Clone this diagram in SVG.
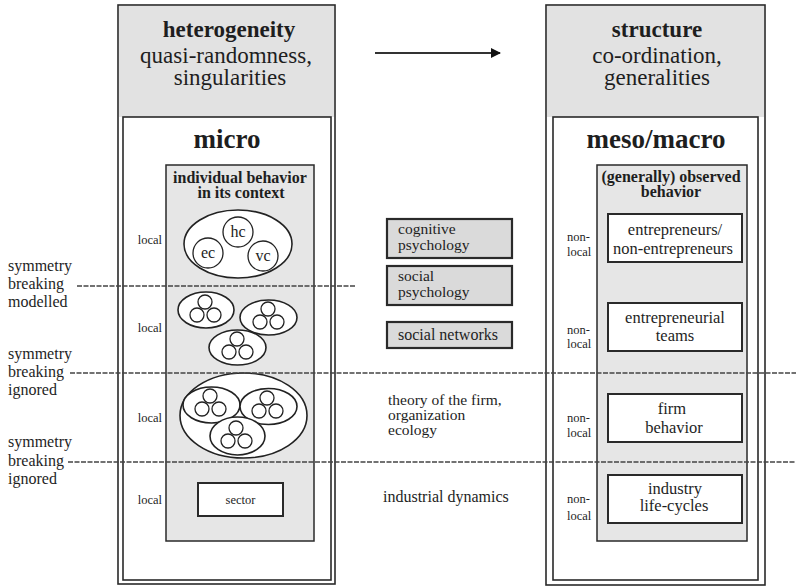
<svg xmlns="http://www.w3.org/2000/svg" width="796" height="587" viewBox="0 0 796 587" font-family="Liberation Serif">
<style>
text{fill:#1e1e1e}
.t{font-size:23px;text-anchor:middle}
.b{font-weight:bold}
.m{font-size:27px;text-anchor:middle;font-weight:bold}
.h{font-size:16px;text-anchor:middle;font-weight:bold}
.l{font-size:16px}
.n{font-size:15.5px}
.s{font-size:12.5px}
.bx{font-size:16.5px;text-anchor:middle}
.frame{fill:#fff;stroke:#2a2a2a;stroke-width:1.6}
.head{fill:#e2e2e2}
.gray{fill:#e6e6e6;stroke:#2a2a2a;stroke-width:1.5}
.mid{fill:#dadada;stroke:#2a2a2a;stroke-width:2.2}
.wb{fill:#fff;stroke:#2a2a2a;stroke-width:2}
.e{fill:#fff;stroke:#222;stroke-width:1.6}
.c{fill:#fff;stroke:#222;stroke-width:1.3}
.sep{stroke:#444;stroke-width:1.4;stroke-dasharray:5 1.5;fill:none}
</style>
<defs>
<marker id="ah" markerWidth="10" markerHeight="10" refX="9" refY="5" orient="auto" markerUnits="userSpaceOnUse">
<path d="M0,0 L10,5 L0,10 Z" fill="#111"/>
</marker>
<g id="tri">
<circle class="c" cx="0" cy="-8" r="7"/>
<circle class="c" cx="-8" cy="5" r="7"/>
<circle class="c" cx="9" cy="5" r="7"/>
</g>
</defs>

<g id="left-column">
<rect class="frame" x="118" y="5" width="217" height="579"/>
<rect class="head" x="119" y="6" width="215" height="111"/>
<text class="t b" x="229" y="37">heterogeneity</text>
<text class="t" x="226" y="63">quasi-randomness,</text>
<text class="t" x="230" y="85">singularities</text>
<rect class="frame" x="123" y="117" width="208" height="463"/>
<text class="m" x="227" y="148">micro</text>
</g>

<g id="individual-behavior">
<rect class="gray" x="166" y="165" width="148" height="376"/>
<text class="h" x="240" y="183">individual behavior</text>
<text class="h" x="241" y="198">in its context</text>
</g>

<g id="level1">
<text class="s" x="162" y="244" text-anchor="end">local</text>
<ellipse class="e" cx="238" cy="244" rx="54" ry="34"/>
<circle class="c" cx="238" cy="232" r="15"/>
<circle class="c" cx="208" cy="253" r="15"/>
<circle class="c" cx="263" cy="256" r="15"/>
<text x="238" y="237" font-size="16" text-anchor="middle">hc</text>
<text x="208" y="258" font-size="16" text-anchor="middle">ec</text>
<text x="263" y="261" font-size="16" text-anchor="middle">vc</text>
</g>

<g id="level2">
<text class="s" x="162" y="332" text-anchor="end">local</text>
<ellipse class="e" cx="206" cy="310" rx="28" ry="18"/>
<use href="#tri" x="205" y="310"/>
<ellipse class="e" cx="268.5" cy="317.5" rx="28.5" ry="17.5"/>
<use href="#tri" x="268" y="317"/>
<ellipse class="e" cx="237.5" cy="347.5" rx="28.5" ry="17.5"/>
<use href="#tri" x="237" y="347"/>
</g>

<g id="level3">
<text class="s" x="162" y="422" text-anchor="end">local</text>
<ellipse class="e" cx="243.5" cy="415.5" rx="63.5" ry="42.5"/>
<ellipse class="e" cx="211.5" cy="405" rx="28.5" ry="18"/>
<use href="#tri" x="210" y="404"/>
<ellipse class="e" cx="268.5" cy="406.5" rx="28.5" ry="18"/>
<use href="#tri" x="267" y="406"/>
<ellipse class="e" cx="237.5" cy="436" rx="27.5" ry="19"/>
<use href="#tri" x="236" y="436"/>
</g>

<g id="level4">
<text class="s" x="162" y="504" text-anchor="end">local</text>
<rect class="wb" x="198" y="483" width="85" height="33" stroke-width="1.6"/>
<text x="240.5" y="504" font-size="12.5" text-anchor="middle">sector</text>
</g>

<g id="right-column">
<rect class="frame" x="546" y="5" width="219" height="580"/>
<rect class="head" x="547" y="6" width="217" height="111"/>
<text class="t b" x="657" y="37">structure</text>
<text class="t" x="657" y="63">co-ordination,</text>
<text class="t" x="657" y="85">generalities</text>
<rect class="frame" x="553" y="117" width="205" height="463"/>
<text class="m" x="656" y="148">meso/macro</text>
</g>

<g id="observed-behavior">
<rect class="gray" x="597" y="165" width="150" height="376"/>
<text class="h" x="671" y="182">(generally) observed</text>
<text class="h" x="671" y="197">behavior</text>
</g>

<g id="entrepreneurs">
<text class="s" x="567" y="241">non-</text>
<text class="s" x="567" y="256">local</text>
<rect class="wb" x="608" y="214" width="134" height="48"/>
<text class="bx" x="675" y="235">entrepreneurs/</text>
<text class="bx" x="673" y="254">non-entrepreneurs</text>
</g>

<g id="teams">
<text class="s" x="567" y="334">non-</text>
<text class="s" x="567" y="348">local</text>
<rect class="wb" x="608" y="303" width="134" height="48"/>
<text class="bx" x="675" y="323">entrepreneurial</text>
<text class="bx" x="675" y="341">teams</text>
</g>

<g id="firm-behavior">
<text class="s" x="567" y="422">non-</text>
<text class="s" x="567" y="437">local</text>
<rect class="wb" x="608" y="394" width="134" height="48"/>
<text class="bx" x="672" y="414">firm</text>
<text class="bx" x="674" y="433">behavior</text>
</g>

<g id="industry">
<text class="s" x="567" y="503">non-</text>
<text class="s" x="567" y="520">local</text>
<rect class="wb" x="608" y="475" width="134" height="48"/>
<text class="bx" x="675" y="494">industry</text>
<text class="bx" x="674" y="511">life-cycles</text>
</g>

<g id="cognitive">
<rect class="mid" x="387" y="219" width="125" height="39"/>
<text class="n" x="398" y="234">cognitive</text>
<text class="n" x="398" y="250">psychology</text>
</g>
<g id="social-psych">
<rect class="mid" x="387" y="266" width="125" height="39"/>
<text class="n" x="398" y="281">social</text>
<text class="n" x="398" y="297">psychology</text>
</g>
<g id="social-networks">
<rect class="mid" x="387" y="322" width="125" height="26"/>
<text class="l" x="398" y="340">social networks</text>
</g>
<g id="theory">
<text class="n" x="388" y="405">theory of the firm,</text>
<text class="n" x="388" y="420">organization</text>
<text class="n" x="388" y="435">ecology</text>
</g>
<g id="industrial">
<text class="l" x="383" y="502" font-size="16.5">industrial dynamics</text>
</g>

<g id="labels">
<text class="l" x="8" y="271">symmetry</text>
<text class="l" x="8" y="289">breaking</text>
<text class="l" x="8" y="307">modelled</text>
<text class="l" x="8" y="359">symmetry</text>
<text class="l" x="8" y="377">breaking</text>
<text class="l" x="8" y="395">ignored</text>
<text class="l" x="8" y="447">symmetry</text>
<text class="l" x="8" y="466">breaking</text>
<text class="l" x="8" y="484">ignored</text>
</g>

<g id="connectors">
<line x1="375" y1="53" x2="500" y2="53" stroke="#333" stroke-width="2" marker-end="url(#ah)"/>
<line class="sep" x1="77" y1="286" x2="355" y2="286"/>
<line class="sep" x1="70" y1="373" x2="796" y2="373"/>
<line class="sep" x1="68" y1="462" x2="796" y2="462"/>
</g>
</svg>
